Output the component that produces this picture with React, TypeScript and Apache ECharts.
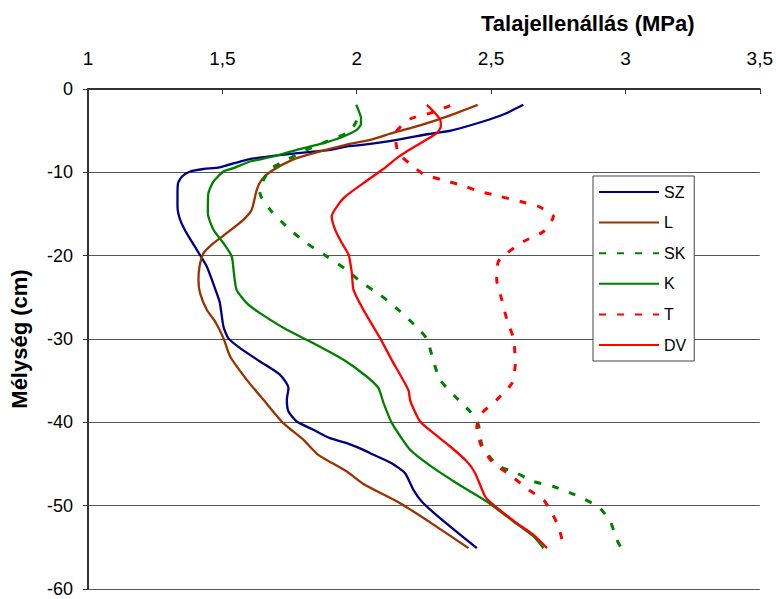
import React, { useEffect, useRef } from "react";
import * as echarts from "echarts";

// Penetration resistance profiles: [resistance (MPa), depth (cm)]
const SZ: [number, number][] = [
  [2.62, -1.9], [2.55, -3.0], [2.47, -3.9], [2.35, -5.0], [2.27, -5.4], [2.15, -6.1],
  [2.02, -6.7], [1.96, -6.9], [1.9, -7.3], [1.72, -7.9], [1.59, -8.5], [1.49, -9.4],
  [1.43, -9.6], [1.38, -9.9], [1.35, -10.5], [1.335, -11.3], [1.333, -12.9], [1.333, -14.1],
  [1.343, -15.7], [1.367, -17.3], [1.405, -19.3], [1.442, -21.3], [1.479, -24.5], [1.491, -25.7],
  [1.504, -28.5], [1.522, -29.9], [1.566, -31.1], [1.64, -32.7], [1.715, -34.3], [1.746, -35.9],
  [1.74, -37.3], [1.746, -38.7], [1.777, -39.9], [1.839, -40.9], [1.901, -41.9], [1.963, -42.5],
  [2.025, -43.3], [2.05, -43.7], [2.13, -44.9], [2.18, -46.1], [2.211, -48.1], [2.242, -49.5],
  [2.31, -51.5], [2.447, -55.1],
];

const L: [number, number][] = [
  [2.45, -1.9], [2.37, -2.9], [2.3, -3.7], [2.21, -4.6], [2.14, -5.2], [2.05, -6.1],
  [1.96, -6.7], [1.84, -7.7], [1.76, -8.5], [1.68, -9.9], [1.646, -10.9], [1.628, -12.1],
  [1.609, -14.5], [1.578, -15.7], [1.516, -17.3], [1.467, -18.5], [1.43, -19.7], [1.415, -21.3],
  [1.411, -22.9], [1.417, -24.5], [1.442, -26.5], [1.473, -27.9], [1.504, -29.9], [1.529, -32.1],
  [1.591, -34.9], [1.653, -37.3], [1.727, -40.1], [1.802, -42.1], [1.857, -43.9], [1.963, -45.9],
  [2.025, -47.4], [2.161, -49.7], [2.273, -52.0], [2.416, -55.1],
];

const SK: [number, number][] = [
  [2.0, -3.8], [1.988, -4.5], [1.963, -5.3], [1.889, -6.3], [1.814, -7.3], [1.74, -8.5],
  [1.684, -9.5], [1.653, -10.9], [1.64, -12.5], [1.678, -14.5], [1.752, -16.9], [1.814, -18.5],
  [1.889, -20.1], [1.963, -21.7], [2.013, -23.1], [2.087, -24.7], [2.162, -26.7], [2.224, -28.6],
  [2.261, -30.0], [2.286, -32.7], [2.31, -34.9], [2.366, -36.9], [2.422, -38.7], [2.453, -40.3],
  [2.466, -42.7], [2.521, -45.1], [2.596, -46.1], [2.658, -47.1], [2.732, -47.7], [2.813, -48.7],
  [2.888, -49.9], [2.906, -50.3], [2.944, -51.9], [2.968, -54.1], [2.981, -54.9],
];

const K: [number, number][] = [
  [1.998, -1.9], [2.006, -2.5], [2.016, -3.5], [2.015, -4.3], [2.0, -4.9], [1.951, -5.7],
  [1.876, -6.5], [1.777, -7.3], [1.69, -8.1], [1.603, -8.7], [1.541, -9.5], [1.504, -9.9],
  [1.467, -11.1], [1.448, -12.5], [1.446, -14.9], [1.467, -16.9], [1.504, -18.5], [1.535, -20.1],
  [1.543, -22.1], [1.553, -24.1], [1.591, -25.7], [1.64, -26.9], [1.74, -28.9], [1.839, -30.5],
  [1.951, -32.5], [2.037, -34.5], [2.081, -35.9], [2.1, -37.7], [2.131, -40.1], [2.199, -43.3],
  [2.273, -45.2], [2.372, -47.3], [2.484, -49.5], [2.583, -51.9], [2.658, -53.7], [2.695, -55.1],
];

const T: [number, number][] = [
  [2.348, -2.0], [2.273, -2.9], [2.199, -3.6], [2.143, -5.4], [2.155, -7.7], [2.211, -9.3],
  [2.248, -10.2], [2.317, -10.9], [2.385, -11.5], [2.459, -12.3], [2.534, -12.9], [2.608, -13.5],
  [2.677, -14.1], [2.732, -15.3], [2.695, -17.1], [2.621, -18.3], [2.559, -19.7], [2.527, -20.7],
  [2.521, -22.9], [2.54, -25.3], [2.559, -27.7], [2.584, -30.0], [2.59, -32.9], [2.578, -35.3],
  [2.521, -37.3], [2.466, -38.9], [2.447, -40.5], [2.462, -42.7], [2.503, -44.7], [2.578, -46.5],
  [2.64, -48.1], [2.695, -49.3], [2.72, -50.5], [2.751, -52.5], [2.77, -54.9],
];

const DV: [number, number][] = [
  [2.261, -1.9], [2.292, -2.9], [2.311, -3.7], [2.313, -4.5], [2.298, -5.3], [2.248, -6.3],
  [2.186, -7.5], [2.149, -8.3], [2.099, -9.6], [2.025, -11.3], [1.951, -13.1], [1.907, -15.3],
  [1.92, -16.9], [1.945, -18.5], [1.97, -19.9], [1.982, -22.1], [1.988, -24.1], [2.025, -26.5],
  [2.087, -29.9], [2.13, -32.5], [2.192, -36.1], [2.2, -37.5], [2.236, -39.9], [2.286, -41.3],
  [2.348, -42.9], [2.41, -44.7], [2.441, -46.1], [2.478, -48.9], [2.509, -49.9], [2.596, -52.1],
  [2.658, -53.5], [2.708, -55.1],
];

const FONT = "'Liberation Sans', Arial, sans-serif";

const seriesDefs = [
  { name: "SZ", data: SZ, color: "#000080", dashed: false },
  { name: "L", data: L, color: "#993300", dashed: false },
  { name: "SK", data: SK, color: "#008000", dashed: true },
  { name: "K", data: K, color: "#008000", dashed: false },
  { name: "T", data: T, color: "#ff0000", dashed: true },
  { name: "DV", data: DV, color: "#ff0000", dashed: false },
];

export default function App() {
  const ref = useRef<HTMLDivElement>(null);

  useEffect(() => {
    if (!ref.current) return;
    const chart = echarts.init(ref.current, undefined, { renderer: "svg" });
    chart.setOption({
      animation: false,
      backgroundColor: "#ffffff",
      title: {
        text: "Talajellenállás (MPa)",
        left: 481,
        top: 12,
        padding: 0,
        textStyle: { fontFamily: FONT, fontSize: 22, fontWeight: "bold", color: "#000" },
      },
      legend: {
        orient: "vertical",
        left: 593,
        top: 176,
        padding: [8, 8, 8, 5],
        itemWidth: 60,
        itemHeight: 16,
        itemGap: 14.6,
        backgroundColor: "#ffffff",
        borderColor: "#444",
        borderWidth: 1,
        // legend keys are plain line samples, no marker
        itemStyle: { opacity: 0 },
        textStyle: { fontFamily: FONT, fontSize: 16, color: "#000", lineHeight: 16 },
        data: seriesDefs.map((s) => s.name),
      },
      grid: { left: 88, right: 16, top: 89, bottom: 10 },
      xAxis: {
        type: "value",
        position: "top",
        min: 1,
        max: 3.5,
        interval: 0.5,
        axisLine: { show: true, lineStyle: { color: "#333", width: 2 } },
        axisTick: { show: true, inside: true, length: 5, lineStyle: { color: "#333" } },
        axisLabel: {
          margin: 21,
          fontFamily: FONT,
          fontSize: 19,
          color: "#000",
          formatter: (v: number) => String(v).replace(".", ","),
        },
        splitLine: { show: false },
      },
      yAxis: {
        type: "value",
        min: -60,
        max: 0,
        interval: 10,
        name: "Mélység (cm)",
        nameLocation: "middle",
        nameGap: 58,
        nameTextStyle: { fontFamily: FONT, fontSize: 22, fontWeight: "bold", color: "#000" },
        axisLine: { show: true, lineStyle: { color: "#333", width: 2 } },
        axisTick: { show: true, inside: false, length: 5, lineStyle: { color: "#333" } },
        axisLabel: { margin: 15, fontFamily: FONT, fontSize: 18, color: "#000" },
        splitLine: { show: true, lineStyle: { color: "#555", width: 1 } },
      },
      series: seriesDefs.map((s) => ({
        name: s.name,
        type: "line",
        data: s.data,
        symbol: "none",
        smooth: 0.2,
        color: s.color,
        lineStyle: s.dashed
          ? { color: s.color, width: 3, type: [7, 11] }
          : { color: s.color, width: 2.3, type: "solid" },
      })),
    });
    return () => chart.dispose();
  }, []);

  return (
    <div
      ref={ref}
      style={{ position: "fixed", left: 0, top: 0, width: 776, height: 599, background: "#fff" }}
    />
  );
}
